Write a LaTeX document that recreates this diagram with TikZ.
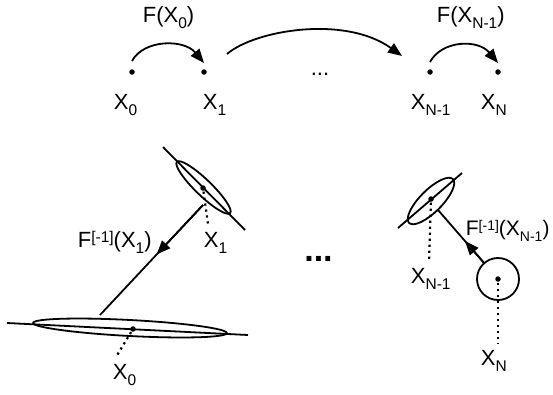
\documentclass[tikz,border=0pt]{standalone}
\usepackage{fontspec}
\setmainfont{Liberation Sans}
\usetikzlibrary{arrows.meta,calc}
\newcommand\mysub[1]{\raisebox{-6pt}{\fontsize{15.5}{16}\selectfont #1}}
\newcommand\mysup[1]{\raisebox{5pt}{\fontsize{15.5}{16}\selectfont #1}}
\newcommand\mysubs[1]{\raisebox{-6pt}{\fontsize{14}{15}\selectfont #1}}
\newcommand\mysups[1]{\raisebox{5pt}{\fontsize{14}{15}\selectfont #1}}
\begin{document}
\begin{tikzpicture}[x=1pt,y=-1pt,
  line width=1.8pt,
  dot/.style={circle,fill=black,inner sep=0pt,minimum size=5.5pt},
  lab/.style={inner sep=0pt,anchor=base west,font=\fontsize{22}{26}\selectfont},
  arr/.style={-{Triangle[length=14pt,width=11pt]}},
  dotline/.style={line width=2.2pt,dash pattern=on 2.2pt off 3.8pt},
  ell/.style={line width=1.8pt}]
\useasboundingbox (0,0) rectangle (553,394);
% top row
\node[dot] (p0) at (132,72) {};
\node[dot] (p1) at (204,72) {};
\node[dot] (pn1) at (430,72) {};
\node[dot] (pn) at (498,72) {};
\draw[arr] ([yshift=11pt]p0.center) .. controls +(12,-22) and +(-20,-24) .. ([yshift=9pt]p1.center);
\draw[arr] ([yshift=10pt]pn1.center) .. controls +(12,-22) and +(-20,-24) .. ([yshift=9pt]pn.center);
\coordinate (bs) at (227,54);
\coordinate (be) at (402,56);
\draw[arr] (bs) .. controls (255,30) and (345,15) .. (be);
\node[lab] (f0) at (142,22) {F(X\mysub{0})};
\node[lab] (fn1) at (436,22) {F(X\mysub{N-1})};
\node[lab] (x0) at (113,109) {X\mysub{0}};
\node[lab] (x1) at (202,109) {X\mysub{1}};
\node[lab] (xn1) at (410,109) {X\mysub{N-1}};
\node[lab] (xn) at (480,109) {X\mysub{N}};
\node[lab,anchor=base] (dt) at (320,75) {...};
% bottom left
\coordinate (l1a) at (163,147);
\coordinate (l1b) at (245,230);
\draw (l1a) -- (l1b);
\draw[ell,rotate around={-44:(203.5,187.5)}] (203.5,187.5) ellipse (37 and 8);
\node[dot] (q1) at (203,188) {};
\coordinate (q1e) at (208,224);
\draw[dotline] (q1) -- (q1e);
\coordinate (l0a) at (7,323);
\coordinate (l0b) at (248,335);
\draw (l0a) -- (l0b);
\draw[ell,rotate around={-3:(130,328)}] (130,328) ellipse (97 and 8);
\node[dot] (q0) at (133,329) {};
\coordinate (q0e) at (116,357);
\draw[dotline] (q0) -- (q0e);
\coordinate (as) at (203,205);
\coordinate (ae) at (100,315);
\draw (as) -- (ae);
\draw[arr] (as) -- ($(as)!0.45!(ae)$);
\node[lab] (fi1) at (77,247) {F\mysup{[-1]}(X\mysub{1})};
\node[lab] (x1b) at (203,247) {X\mysub{1}};
\node[lab] (x0b) at (112,379) {X\mysub{0}};
\node[lab,anchor=base,font=\fontsize{34}{36}\selectfont\bfseries] (db) at (318.5,261) {...};
% bottom right
\coordinate (r1a) at (398,228);
\coordinate (r1b) at (462,173);
\draw (r1a) -- (r1b);
\draw[ell,rotate around={45:(431,201)}] (431,201) ellipse (31 and 11);
\node[dot] (r1) at (431,199) {};
\coordinate (r1e) at (429,262);
\draw[dotline] (r1) -- (r1e);
\node[draw,circle,inner sep=0pt,minimum size=42pt] (cn) at (498,279) {};
\node[dot] (rn) at (498,279) {};
\coordinate (rne) at (498,343);
\draw[dotline] (rn) -- (rne);
\coordinate (ce) at (438,210);
\draw (cn) -- (ce);
\draw[arr] (cn) -- ($(cn)!0.55!(ce)$);
\node[lab,font=\fontsize{21}{25}\selectfont] (fin) at (465,235) {F\mysups{[-1]}(X\mysubs{N-1})};
\node[lab] (xn1b) at (410,283) {X\mysub{N-1}};
\node[lab] (xnb) at (480,365) {X\mysub{N}};
\end{tikzpicture}
\end{document}
